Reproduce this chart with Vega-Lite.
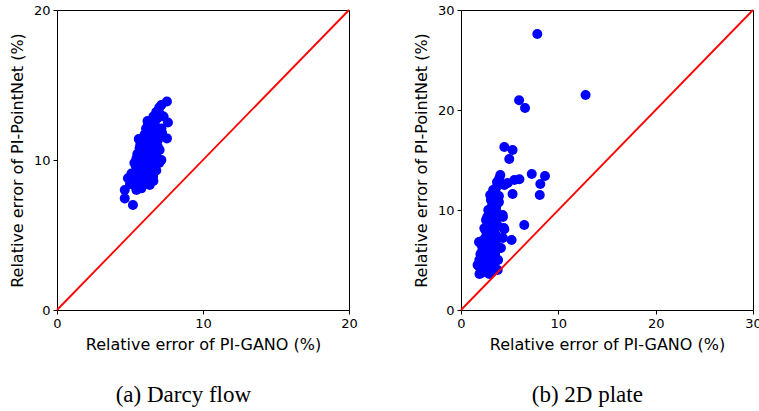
{
  "$schema": "https://vega.github.io/schema/vega-lite/v6.json",
  "background": "white",
  "padding": {"left": 8, "top": 3, "right": 0, "bottom": 0},
  "spacing": 54,
  "datasets": {
    "darcy": [
      {"gano":7.53,"pn":13.9},{"gano":7.15,"pn":13.67},{"gano":6.8,"pn":13.2},{"gano":7.03,"pn":13.1},{"gano":7.6,"pn":12.5},{"gano":6.23,"pn":12.33},{"gano":6.58,"pn":12.2},{"gano":7.15,"pn":12.1},{"gano":7.53,"pn":11.44},{"gano":5.9,"pn":11.44},{"gano":6.47,"pn":11.55},{"gano":6.92,"pn":11.33},{"gano":5.66,"pn":10.78},{"gano":6.35,"pn":10.9},{"gano":7.03,"pn":10.67},{"gano":5.44,"pn":10.1},{"gano":6.12,"pn":10.2},{"gano":7.15,"pn":10.0},{"gano":6.69,"pn":9.9},{"gano":5.66,"pn":9.55},{"gano":6.35,"pn":9.45},{"gano":5.32,"pn":9.0},{"gano":6.0,"pn":9.0},{"gano":6.58,"pn":8.9},{"gano":4.86,"pn":8.78},{"gano":5.2,"pn":8.62},{"gano":5.9,"pn":8.44},{"gano":6.35,"pn":8.33},{"gano":4.64,"pn":8.0},{"gano":5.44,"pn":8.0},{"gano":5.78,"pn":8.11},{"gano":4.64,"pn":7.44},{"gano":5.2,"pn":7.0},
      {"gano":6.9,"pn":12.8},{"gano":6.6,"pn":12.9},{"gano":6.4,"pn":11.9},{"gano":6.8,"pn":11.8},{"gano":6.1,"pn":11.2},{"gano":6.6,"pn":11.0},{"gano":5.8,"pn":10.5},{"gano":6.0,"pn":10.8},{"gano":6.5,"pn":10.4},{"gano":6.8,"pn":10.3},{"gano":5.5,"pn":10.4},{"gano":5.9,"pn":9.9},{"gano":6.2,"pn":9.7},{"gano":6.5,"pn":9.6},{"gano":5.4,"pn":9.6},{"gano":5.8,"pn":9.2},{"gano":6.2,"pn":9.1},{"gano":6.8,"pn":9.3},{"gano":5.6,"pn":8.7},{"gano":6.1,"pn":8.6},{"gano":5.3,"pn":8.3},{"gano":6.6,"pn":8.6},{"gano":5.0,"pn":8.4},{"gano":6.3,"pn":10.0},{"gano":5.6,"pn":10.0},{"gano":6.0,"pn":11.7},{"gano":6.7,"pn":12.5},{"gano":6.2,"pn":12.6},{"gano":7.2,"pn":11.8},{"gano":5.1,"pn":9.1},{"gano":5.7,"pn":11.0},{"gano":7.3,"pn":12.9},{"gano":7.0,"pn":13.5},{"gano":6.9,"pn":10.9},{"gano":6.3,"pn":11.5},{"gano":5.95,"pn":9.45},{"gano":5.5,"pn":8.9},{"gano":6.45,"pn":9.2},{"gano":7.0,"pn":9.8},{"gano":6.15,"pn":10.5},{"gano":5.3,"pn":9.8},{"gano":5.6,"pn":11.4},{"gano":6.1,"pn":12.1}
    ],
    "plate": [
      {"gano":7.84,"pn":27.6},{"gano":5.97,"pn":20.97},{"gano":6.58,"pn":20.2},{"gano":12.8,"pn":21.5},{"gano":4.45,"pn":16.3},{"gano":5.3,"pn":16.0},{"gano":4.96,"pn":15.1},{"gano":7.27,"pn":13.6},{"gano":8.63,"pn":13.4},{"gano":8.15,"pn":12.6},{"gano":8.09,"pn":11.5},{"gano":6.0,"pn":13.07},{"gano":5.48,"pn":13.0},{"gano":5.3,"pn":11.6},{"gano":6.5,"pn":8.5},{"gano":5.2,"pn":7.0},{"gano":4.04,"pn":13.5},{"gano":3.7,"pn":12.8},{"gano":4.45,"pn":12.5},{"gano":4.8,"pn":12.7},
      {"gano":3.94,"pn":13.17},{"gano":3.42,"pn":11.67},{"gano":3.08,"pn":11.0},{"gano":3.77,"pn":10.67},{"gano":2.9,"pn":9.67},{"gano":4.28,"pn":9.5},{"gano":2.57,"pn":9.0},{"gano":3.42,"pn":8.67},{"gano":2.4,"pn":8.17},{"gano":4.45,"pn":8.07},{"gano":2.57,"pn":7.33},{"gano":3.6,"pn":7.5},{"gano":2.06,"pn":6.83},{"gano":3.08,"pn":6.5},{"gano":3.94,"pn":6.17},{"gano":2.4,"pn":5.83},{"gano":3.26,"pn":5.33},{"gano":1.88,"pn":5.0},{"gano":2.57,"pn":4.67},{"gano":3.77,"pn":5.0},{"gano":1.88,"pn":4.33},{"gano":3.08,"pn":4.17},{"gano":2.06,"pn":3.67},{"gano":2.9,"pn":3.83},{"gano":3.77,"pn":4.0},
      {"gano":1.9,"pn":3.6},{"gano":2.9,"pn":3.6},{"gano":1.7,"pn":4.5},{"gano":1.85,"pn":6.8},{"gano":4.3,"pn":9.3},{"gano":4.4,"pn":8.2},{"gano":4.3,"pn":7.2},{"gano":4.1,"pn":6.2},{"gano":3.8,"pn":5.0},
      {"gano":3.3,"pn":12.0},{"gano":3.6,"pn":12.2},{"gano":3.4,"pn":11.3},{"gano":3.9,"pn":11.4},{"gano":3.2,"pn":10.5},{"gano":3.6,"pn":10.2},{"gano":3.9,"pn":10.8},{"gano":2.8,"pn":10.0},{"gano":3.3,"pn":9.8},{"gano":3.8,"pn":9.6},{"gano":3.1,"pn":9.2},{"gano":3.6,"pn":9.0},{"gano":2.9,"pn":8.6},{"gano":3.2,"pn":8.2},{"gano":3.8,"pn":8.4},{"gano":2.7,"pn":7.8},{"gano":3.1,"pn":7.6},{"gano":2.3,"pn":7.0},{"gano":2.8,"pn":7.2},{"gano":3.4,"pn":7.0},{"gano":2.6,"pn":6.4},{"gano":3.3,"pn":6.2},{"gano":2.2,"pn":6.0},{"gano":2.9,"pn":5.8},{"gano":3.5,"pn":5.6},{"gano":2.3,"pn":5.2},{"gano":2.7,"pn":4.9},{"gano":3.3,"pn":4.6},{"gano":2.2,"pn":4.2},{"gano":2.5,"pn":3.8},{"gano":3.2,"pn":3.9},{"gano":3.5,"pn":4.9},{"gano":2.0,"pn":5.6},{"gano":2.1,"pn":6.5},{"gano":3.0,"pn":6.8},{"gano":3.6,"pn":6.6},{"gano":2.5,"pn":8.0},{"gano":2.7,"pn":9.3},{"gano":3.3,"pn":10.8},{"gano":3.0,"pn":11.5}
    ],
    "diag20": [{"x0":0,"y0":0,"x1":20,"y1":20}],
    "diag30": [{"x0":0,"y0":0,"x1":30,"y1":30}]
  },
  "hconcat": [
    {
      "width": 292,
      "height": 300,
      "title": {"text": "(a) Darcy flow", "orient": "bottom", "font": "Liberation Serif", "fontSize": 23, "fontWeight": "normal", "color": "black", "offset": 32, "anchor": "middle", "frame": "bounds"},
      "layer": [
        {
          "data": {"name": "darcy"},
          "mark": {"type": "circle", "size": 100, "color": "#0000ff", "opacity": 1},
          "encoding": {
            "x": {"field": "gano", "type": "quantitative", "scale": {"domain": [0, 20], "nice": false}, "axis": {"values": [0, 10, 20], "title": "Relative error of PI-GANO (%)"}},
            "y": {"field": "pn", "type": "quantitative", "scale": {"domain": [0, 20], "nice": false}, "axis": {"values": [0, 10, 20], "title": "Relative error of PI-PointNet (%)"}}
          }
        },
        {
          "data": {"name": "diag20"},
          "mark": {"type": "rule", "color": "#ff0000", "strokeWidth": 1.8},
          "encoding": {
            "x": {"field": "x0", "type": "quantitative"},
            "y": {"field": "y0", "type": "quantitative"},
            "x2": {"field": "x1"},
            "y2": {"field": "y1"}
          }
        }
      ]
    },
    {
      "width": 292,
      "height": 300,
      "title": {"text": "(b) 2D plate", "orient": "bottom", "font": "Liberation Serif", "fontSize": 23, "fontWeight": "normal", "color": "black", "offset": 32, "anchor": "middle", "frame": "bounds"},
      "layer": [
        {
          "data": {"name": "plate"},
          "mark": {"type": "circle", "size": 100, "color": "#0000ff", "opacity": 1},
          "encoding": {
            "x": {"field": "gano", "type": "quantitative", "scale": {"domain": [0, 30], "nice": false}, "axis": {"values": [0, 10, 20, 30], "title": "Relative error of PI-GANO (%)"}},
            "y": {"field": "pn", "type": "quantitative", "scale": {"domain": [0, 30], "nice": false}, "axis": {"values": [0, 10, 20, 30], "title": "Relative error of PI-PointNet (%)"}}
          }
        },
        {
          "data": {"name": "diag30"},
          "mark": {"type": "rule", "color": "#ff0000", "strokeWidth": 1.8},
          "encoding": {
            "x": {"field": "x0", "type": "quantitative"},
            "y": {"field": "y0", "type": "quantitative"},
            "x2": {"field": "x1"},
            "y2": {"field": "y1"}
          }
        }
      ]
    }
  ],
  "config": {
    "view": {"stroke": "black", "strokeWidth": 1},
    "axis": {
      "grid": false,
      "domainColor": "black",
      "tickColor": "black",
      "tickSize": 4,
      "labelFont": "DejaVu Sans",
      "labelFontSize": 13,
      "labelColor": "black",
      "labelPadding": 3,
      "titleFont": "DejaVu Sans",
      "titleFontSize": 16,
      "titleFontWeight": "normal",
      "titleColor": "black",
      "labelFlush": false,
      "labelOverlap": false
    },
    "axisY": {"titlePadding": 8},
    "axisX": {"titlePadding": 6}
  }
}
